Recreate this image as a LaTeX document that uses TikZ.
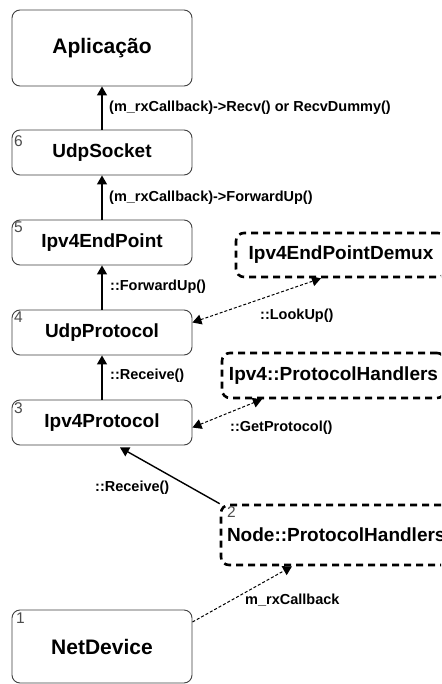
\documentclass[tikz,border=0pt]{standalone}
\usepackage{fontspec}
\setmainfont{Liberation Sans}
\usetikzlibrary{arrows.meta,calc}

\tikzset{
  layer/.style={draw=black!75, line width=0.9pt, rounded corners=8pt,
    minimum width=180pt, inner sep=0pt, font=\bfseries\fontsize{19}{22}\selectfont},
  bigfont/.style={font=\bfseries\fontsize{21}{24}\selectfont},
  handler/.style={draw=black, line width=2.6pt, dash pattern=on 7pt off 5pt,
    rounded corners=8pt, inner sep=0pt, font=\bfseries\fontsize{19}{22}\selectfont},
  idx/.style={anchor=north west, inner sep=0pt, text=black!70,
    font=\fontsize{15.5}{17}\selectfont},
  call/.style={anchor=west, inner sep=0pt, font=\bfseries\fontsize{14.5}{17}\selectfont},
  up/.style={line width=1.4pt, -{Triangle[length=9pt,width=10pt]}},
  query/.style={line width=1pt, dash pattern=on 3pt off 2pt,
    {Triangle[length=9pt,width=10pt]}-{Triangle[length=9pt,width=10pt]}},
  feed/.style={line width=1pt, dash pattern=on 3pt off 2pt,
    -{Triangle[length=9pt,width=10pt]}},
}

\begin{document}
\begin{tikzpicture}[x=1pt,y=-1pt]
\useasboundingbox (0,0) rectangle (441,684);
\clip (0,0) rectangle (441,684);
\fill[white] (0,0) rectangle (441,684);

% protocol stack, bottom to top
\node[layer, bigfont, minimum height=76pt] (app)  at (102,48)    {Aplicação};
\node[layer, minimum height=45pt]          (sock) at (102,152.5) {UdpSocket};
\node[layer, minimum height=45pt]          (ep)   at (102,242.5) {Ipv4EndPoint};
\node[layer, minimum height=45pt]          (udp)  at (102,332.5) {UdpProtocol};
\node[layer, minimum height=45pt]          (ipv4) at (102,422.5) {Ipv4Protocol};
\node[layer, bigfont, minimum height=73pt] (dev)  at (102,646.5) {NetDevice};

% step numbers
\node[idx] (n6) at (14,135) {6};
\node[idx] (n5) at (14,222) {5};
\node[idx] (n4) at (14,312) {4};
\node[idx] (n3) at (14,402) {3};
\node[idx] (n1) at (16,613) {1};

% lookup tables and handler lists
\node[handler, minimum width=210pt, minimum height=44pt] (demux) at (341,255) {Ipv4EndPointDemux};
\node[handler, minimum width=223pt, minimum height=45pt] (iph)   at (333.5,375.5) {Ipv4::ProtocolHandlers};
\node[handler, minimum width=228pt, minimum height=60pt, text width=224pt, align=left] (nph) at (335,535) {\hspace*{4pt}Node::ProtocolHandlers};
\node[idx] (n2) at (227,506) {2};

% upward delivery
\draw[up] (sock.north) -- (app.south);
\draw[up] (ep.north)   -- (sock.south);
\draw[up] (udp.north)  -- (ep.south);
\draw[up] (ipv4.north) -- (udp.south);
\draw[up] (nph.north west) -- ([xshift=18pt,yshift=-2pt]ipv4.south);

% lookups
\draw[query] ([yshift=10pt]udp.east) -- ([xshift=-20pt]demux.south);
\draw[query] ([yshift=-5pt]ipv4.east) -- ([xshift=-71.5pt]iph.south);
\draw[feed]  ([yshift=24.5pt]dev.east) -- ([xshift=-43pt]nph.south);

% call names
\node[call] (l1) at (109,108) {(m\_rxCallback)->Recv() or RecvDummy()};
\node[call] (l2) at (109,198) {(m\_rxCallback)->ForwardUp()};
\node[call] (l3) at (110,287) {::ForwardUp()};
\node[call] (l4) at (110,375.5) {::Receive()};
\node[call] (l5) at (260,316) {::LookUp()};
\node[call] (l6) at (230,428) {::GetProtocol()};
\node[call] (l7) at (95,488) {::Receive()};
\node[call] (l8) at (245,600) {m\_rxCallback};
\end{tikzpicture}
\end{document}
